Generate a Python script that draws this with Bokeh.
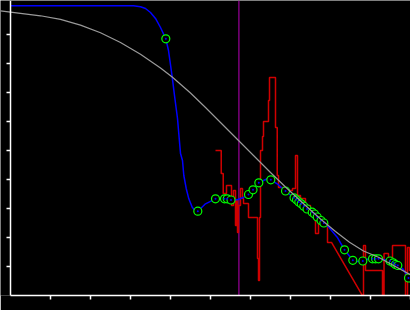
from bokeh.plotting import figure
from bokeh.models import Range1d, LinearAxis, FixedTicker, Span
from bokeh.embed import file_html
from bokeh.resources import INLINE

# ---- data ----
x_ticks = [1, 2, 3, 4, 5, 6, 7, 8, 9, 10]
y_ticks = [1, 2, 3, 4, 5, 6, 7, 8, 9]

model_x = [-0.25, 0.25, 0.75, 1.25, 1.75, 2.25, 2.75, 3.25, 3.75, 4.05, 4.5, 4.875, 5.25,
           5.7, 6.075, 6.5, 6.875, 7.375, 7.75, 8.125, 8.475, 8.825, 9.2, 9.575, 10.0]
model_y = [9.817, 9.731, 9.645, 9.521, 9.324, 9.062, 8.724, 8.321, 7.845, 7.524, 6.983, 6.483, 5.966,
           5.345, 4.828, 4.241, 3.741, 3.103, 2.638, 2.207, 1.838, 1.534, 1.321, 1.034, 0.714]

fit_x = [0.0, 3.075, 3.25, 3.375, 3.5, 3.625, 3.75, 3.883, 3.95, 4.043, 4.1, 4.175, 4.25, 4.3,
         4.333, 4.393, 4.458, 4.543, 4.6, 4.683, 4.875, 5.125, 5.35, 5.5, 5.668, 5.833, 5.943,
         6.063, 6.208, 6.418, 6.508, 6.668, 6.875, 7.088, 7.268, 7.413, 7.6, 7.763, 7.833, 7.958,
         8.168, 8.35, 8.558, 8.675, 8.808, 8.958, 9.183, 9.325, 9.488, 9.668, 9.8, 9.875, 9.95, 10.0]
fit_y = [9.99, 9.99, 9.955, 9.897, 9.759, 9.552, 9.241, 8.852, 8.448, 7.528, 6.897, 6.103, 4.897, 4.655,
         4.138, 3.690, 3.334, 3.045, 2.948, 2.907, 3.162, 3.334, 3.334, 3.3, 3.3, 3.390, 3.472,
         3.645, 3.886, 4.024, 3.990, 3.852, 3.603, 3.369, 3.162, 2.983, 2.810, 2.586, 2.5, 2.355,
         2.010, 1.576, 1.214, 1.172, 1.190, 1.266, 1.266, 1.241, 1.190, 1.059, 0.931, 0.783, 0.603, 0.552]

pts_x = [3.883, 4.683, 5.125, 5.35, 5.418, 5.513, 5.95, 6.063, 6.208, 6.508, 6.875, 7.088, 7.15,
         7.208, 7.268, 7.333, 7.413, 7.543, 7.6, 7.668, 7.763, 7.833, 8.35, 8.558, 8.808, 9.05,
         9.125, 9.2, 9.488, 9.568, 9.625, 9.683, 9.95]
pts_y = [8.852, 2.907, 3.334, 3.334, 3.334, 3.293, 3.483, 3.645, 3.886, 3.990, 3.603, 3.369, 3.3,
         3.224, 3.162, 3.079, 2.983, 2.872, 2.810, 2.707, 2.586, 2.5, 1.576, 1.214, 1.190, 1.266,
         1.266, 1.266, 1.190, 1.128, 1.069, 1.034, 0.603]

raw_x = [5.125, 5.268, 5.268, 5.318, 5.318, 5.4, 5.4, 5.525, 5.525, 5.575, 5.575, 5.625, 5.625,
         5.65, 5.65, 5.675, 5.675, 5.7, 5.7, 5.75, 5.75, 5.8, 5.8, 5.825, 5.825, 5.95, 5.95,
         6.175, 6.175, 6.2, 6.2, 6.225, 6.225, 6.25, 6.25, 6.3, 6.3, 6.325, 6.325, 6.45, 6.45,
         6.475, 6.475, 6.625, 6.625, 6.668, 6.668, 6.7, 6.7, 6.875, 6.875, 7.05, 7.05, 7.125,
         7.125, 7.175, 7.175, 7.25, 7.25, 7.375, 7.375, 7.5, 7.5, 7.625, 7.625, 7.7, 7.7, 7.825,
         7.925, 7.925, 8.025, 8.825, 8.825, 8.875, 8.875, 9.3, 9.3, 9.338, 9.338, 9.45, 9.45,
         9.55, 9.55, 9.875, 9.875, 9.925, 9.925, 9.975, 9.975, 10.0]
raw_y = [5.0, 5.0, 4.207, 4.207, 3.517, 3.517, 3.793, 3.793, 3.103, 3.103, 3.621, 3.621, 2.414,
         2.414, 3.276, 3.276, 2.172, 2.172, 3.103, 3.103, 3.690, 3.690, 3.345, 3.345, 3.172, 3.172,
         2.690, 2.690, 1.276, 1.276, 0.517, 0.517, 2.690, 2.690, 5.0, 5.0, 5.483, 5.483, 6.0, 6.0,
         6.724, 6.724, 7.517, 7.517, 5.793, 5.793, 4.138, 4.138, 3.724, 3.724, 3.621, 3.621, 3.690,
         3.690, 4.828, 4.828, 3.448, 3.448, 3.345, 3.345, 3.103, 3.103, 2.759, 2.759, 2.138, 2.138,
         2.517, 2.517, 2.483, 1.828, 1.828, -0.069, 1.724, 1.724, 0.862, 0.862, -0.069, -0.069,
         1.448, 1.448, 1.276, 1.276, 1.724, 1.724, -0.069, -0.069, 1.655, 1.655, 0.862, 0.862]

marker_x = 5.71

# ---- figure ----
p = figure(width=410, height=310, output_backend="svg", toolbar_location=None,
           x_range=Range1d(-0.25, 10.0), y_range=Range1d(0, 10.172),
           x_axis_location=None, y_axis_location=None)
p.background_fill_color = "black"
p.border_fill_color = "black"
p.outline_line_color = None
p.xgrid.visible = False
p.ygrid.visible = False
p.min_border_left = 0
p.min_border_right = 0
p.min_border_top = 0
p.min_border_bottom = 15

def style_axis(ax):
    ax.axis_line_color = "white"
    ax.axis_line_width = 1.5
    ax.major_tick_line_color = "white"
    ax.major_tick_line_width = 1.5
    ax.major_tick_out = 4
    ax.major_tick_in = 0
    ax.minor_tick_line_color = None
    ax.major_label_text_font_size = "0px"
    ax.major_label_standoff = 0
    ax.major_label_text_alpha = 0

xa = LinearAxis(ticker=FixedTicker(ticks=x_ticks), bounds=(0, 10))
style_axis(xa)
p.add_layout(xa, "below")

ya = LinearAxis(ticker=FixedTicker(ticks=y_ticks), fixed_location=0)
style_axis(ya)
p.add_layout(ya, "left")

p.add_layout(Span(location=marker_x, dimension="height", line_color="#900090",
                  line_width=1.3, level="underlay"))

p.line(raw_x, raw_y, line_color="#d00000", line_width=1.5)
p.line(fit_x, fit_y, line_color="#0000ff", line_width=1.5)
p.scatter(pts_x, pts_y, marker="circle", size=8, line_color="#00ff00",
          fill_color="black", line_width=1.2)
p.scatter(pts_x, pts_y, marker="circle", size=2, line_color=None, fill_color="#0000ff")
p.line(model_x, model_y, line_color="#999999", line_width=1.2)

open("out.html", "w").write(file_html(p, INLINE))
